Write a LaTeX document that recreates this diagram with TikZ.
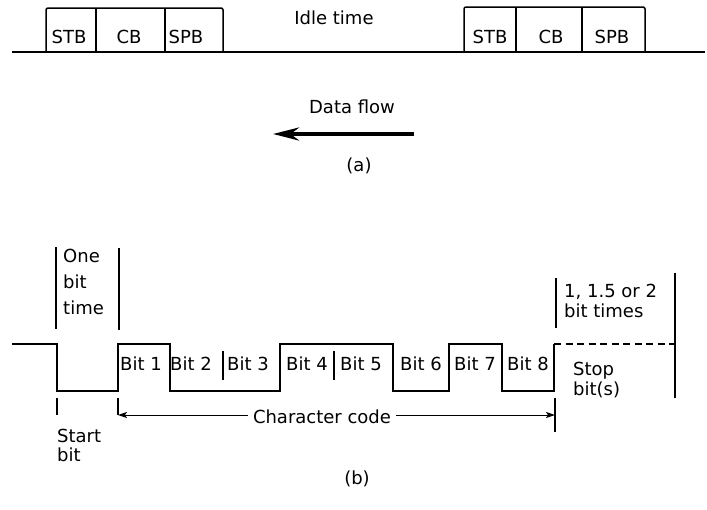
\documentclass[tikz,border=0pt]{standalone}
\usepackage{fontspec}
\setmainfont{DejaVu Sans}
\usepackage{tikz}
\usetikzlibrary{arrows.meta,positioning}
\tikzset{
  lbl/.style={font=\fontsize{18}{20}\selectfont,inner sep=0pt,anchor=base},
  bitlbl/.style={font=\fontsize{18}{20}\selectfont,inner sep=0pt,anchor=base},
  note/.style={font=\fontsize{18}{#1}\selectfont,inner sep=0pt,anchor=north west,align=left},
  wave/.style={line width=1.5pt},
  tick/.style={line width=1.3pt},
  flowarrow/.style={-{Stealth[length=26pt,width=13pt]},line width=4pt},
  dimarrow/.style={-{Stealth[length=9pt,width=6pt,inset=2pt]},line width=1pt},
}

\begin{document}
\begin{tikzpicture}[x=1pt,y=-1pt]
  \useasboundingbox (0,0) rectangle (707,509);

  \draw[wave] (12,52) -- (705,52);
  \draw[wave,rounded corners=2pt] (46,52) |- (223,8) -- (223,52);
  \draw[wave] (96,8) -- (96,52) (165,8) -- (165,52);
  \draw[wave,rounded corners=2pt] (464,52) |- (645,7) -- (645,52);
  \draw[wave] (516,7) -- (516,52) (582,7) -- (582,52);

  \node[lbl] (stbA) at (69,43) {STB};
  \node[lbl] (cbA) at (129,43) {CB};
  \node[lbl] (spbA) at (186,43) {SPB};
  \node[lbl] (stbB) at (490,43) {STB};
  \node[lbl] (cbB) at (551,43) {CB};
  \node[lbl] (spbB) at (612,43) {SPB};
  \node[lbl] (idle) at (334,24) {Idle time};

  \node[lbl] (flow) at (352,113) {Data flow};
  \coordinate (flowR) at (414,134);
  \coordinate (flowL) at (273,134);
  \draw[flowarrow] (flowR) -- (flowL);
  \node[lbl] (capA) at (359,171) {(a)};

  \draw[wave] (12,344) -- (57,344) -- (57,391) -- (118,391) -- (118,344)
    -- (170,344) -- (170,391) -- (280,391) -- (280,344) -- (393,344)
    -- (393,391) -- (449,391) -- (449,344) -- (502,344) -- (502,391)
    -- (554,391) -- (554,344);
  \draw[wave,dash pattern=on 7pt off 4.5pt] (554,344) -- (675,344);
  \draw[tick] (223,351) -- (223,380) (334,351) -- (334,380);
  \foreach \x/\n in {141/1,191/2,248/3,307/4,361/5,421/6,475/7,528/8}
    \node[bitlbl] (bit\n) at (\x,370) {Bit \n};

  \draw[tick] (56,247) -- (56,329) (119,248) -- (119,330);
  \node[note=26] (onebit) at (63,249) {One\\bit\\time};
  \draw[tick] (556,278) -- (556,328) (675,273) -- (675,398);
  \node[note=20] (stoptime) at (564,284) {1, 1.5 or 2\\bit times};
  \node[note=20] (stop) at (573,362) {Stop\\bit(s)};

  \draw[tick] (57,398) -- (57,415) (118,398) -- (118,415) (555,398) -- (555,432);
  \node[note=19] (start) at (57,429) {Start\\bit};
  \coordinate (codeL) at (118,415);
  \coordinate (codeR) at (555,415);
  \node[lbl] (code) at (322,423) {Character code};
  \draw[dimarrow] ([xshift=-5pt]codeL -| code.west) -- (codeL);
  \draw[dimarrow] ([xshift=5pt]codeR -| code.east) -- (codeR);
  \node[lbl] (capB) at (357,484) {(b)};
\end{tikzpicture}
\end{document}
